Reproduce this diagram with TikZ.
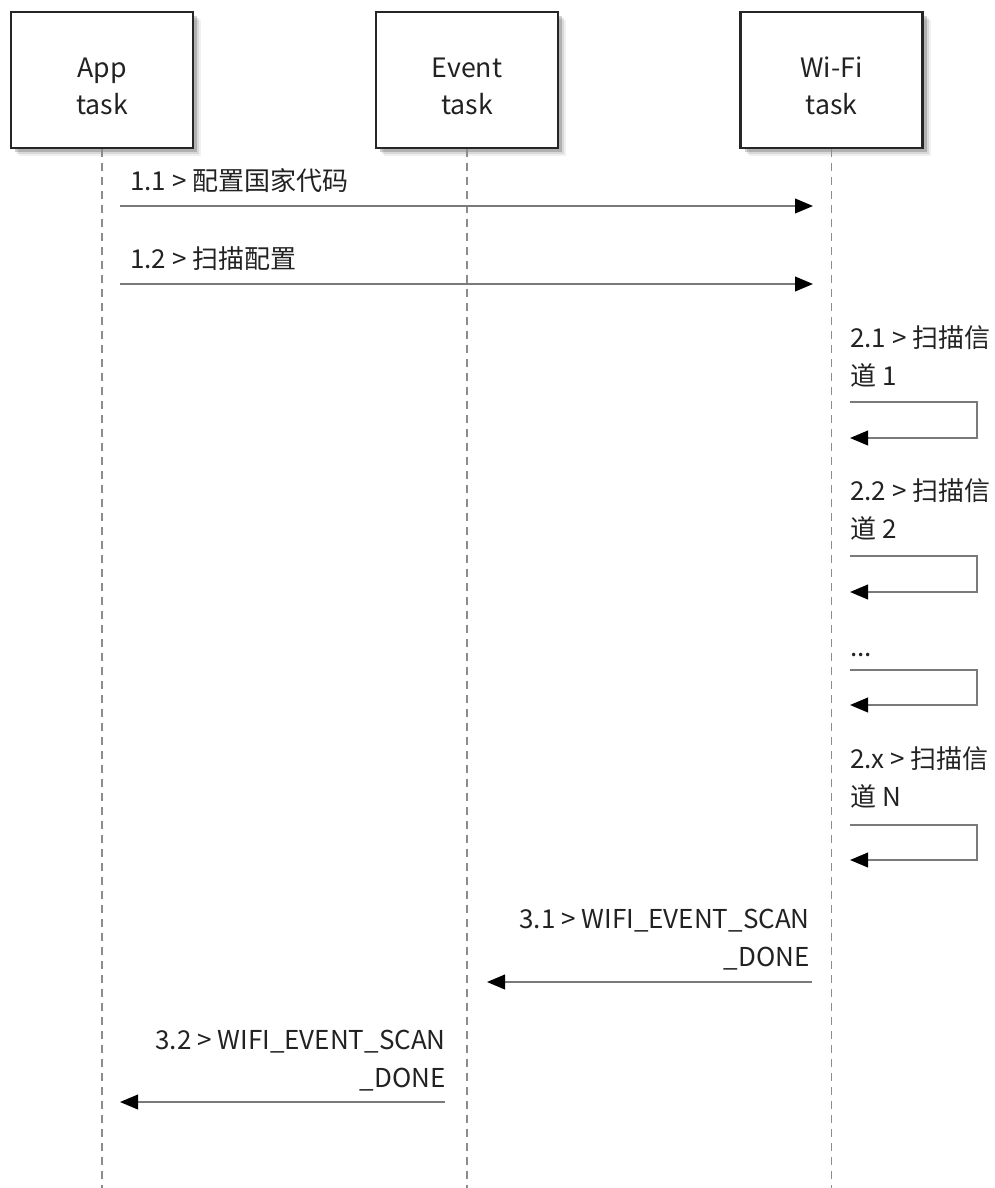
\documentclass[tikz,border=0pt]{standalone}
\usepackage{fontspec}
\setmainfont{Noto Sans CJK SC}
\usetikzlibrary{arrows.meta,shadows}
\definecolor{txt}{HTML}{222222}
\definecolor{ln}{HTML}{7A7A7A}
\definecolor{lifec}{HTML}{8C8C8C}
\begin{document}
\begin{tikzpicture}[x=0.75pt,y=-0.75pt,
  task/.style={draw=black!85, line width=1.9pt, fill=white, minimum width=136.5pt,
    minimum height=102pt, align=center, text=txt, font=\fontsize{20}{28}\selectfont,
    drop shadow={shadow xshift=6pt, shadow yshift=-6pt, fill=black, opacity=0.06},
    drop shadow={shadow xshift=4.5pt, shadow yshift=-4.5pt, fill=black, opacity=0.1},
    drop shadow={shadow xshift=3pt, shadow yshift=-3pt, fill=black, opacity=0.18}},
  life/.style={draw=lifec, line width=1.1pt, dash pattern=on 6pt off 4.5pt},
  msg/.style={draw=ln, line width=1.4pt, -{Triangle[length=13.5pt,width=11pt,color=black]}},
  lbl/.style={inner sep=0pt, text=txt, font=\fontsize{19.5}{28}\selectfont}
]
\useasboundingbox (0,0) rectangle (995,1188);

% task boxes
\node[task] (app) at (102,80) {\rule{0pt}{24pt}App\\task};
\node[task] (evt) at (467,80) {\rule{0pt}{24pt}Event\\task};
\node[task] (wifi) at (831.5,80) {\rule{0pt}{24pt}Wi-Fi\\task};

% lifelines
\coordinate (append) at (102,1188);
\coordinate (evtend) at (467,1188);
\coordinate (wifiend) at (831.5,1188);
\draw[life] (app.south) -- (append);
\draw[life] (evt.south) -- (evtend);
\draw[life] (wifi.south) -- (wifiend);

% 1.1
\coordinate (m11s) at (120,206);
\coordinate (m11e) at (813,206);
\draw[msg] (m11s) -- (m11e);
\node[lbl, anchor=base west] (l11) at (130,190) {1.1 > 配置国家代码};

% 1.2
\coordinate (m12s) at (120,284);
\coordinate (m12e) at (813,284);
\draw[msg] (m12s) -- (m12e);
\node[lbl, anchor=base west] (l12) at (130,268) {1.2 > 扫描配置};

% 2.1
\node[lbl, anchor=base west, align=left] (l21) at (850,385) {2.1 > 扫描信\\道 1};
\coordinate (s1a) at (850,402);
\coordinate (s1b) at (977,438);
\coordinate (s1c) at (850,438);
\draw[msg] (s1a) -| (s1b) -- (s1c);

% 2.2
\node[lbl, anchor=base west, align=left] (l22) at (850,538) {2.2 > 扫描信\\道 2};
\coordinate (s2a) at (850,556);
\coordinate (s2b) at (977,592);
\coordinate (s2c) at (850,592);
\draw[msg] (s2a) -| (s2b) -- (s2c);

% ...
\node[lbl, anchor=base west] (ldots) at (850,656) {...};
\coordinate (s3a) at (850,670);
\coordinate (s3b) at (977,705);
\coordinate (s3c) at (850,705);
\draw[msg] (s3a) -| (s3b) -- (s3c);

% 2.x
\node[lbl, anchor=base west, align=left] (l2x) at (850,806) {2.x > 扫描信\\道 N};
\coordinate (s4a) at (850,825);
\coordinate (s4b) at (977,860);
\coordinate (s4c) at (850,860);
\draw[msg] (s4a) -| (s4b) -- (s4c);

% 3.1
\node[lbl, anchor=base east, align=right] (l31) at (810,966) {3.1 > WIFI\_EVENT\_SCAN\\\_DONE};
\coordinate (m31s) at (812,982);
\coordinate (m31e) at (487,982);
\draw[msg] (m31s) -- (m31e);

% 3.2
\node[lbl, anchor=base east, align=right] (l32) at (446,1087) {3.2 > WIFI\_EVENT\_SCAN\\\_DONE};
\coordinate (m32s) at (445,1102);
\coordinate (m32e) at (120,1102);
\draw[msg] (m32s) -- (m32e);
\end{tikzpicture}
\end{document}
